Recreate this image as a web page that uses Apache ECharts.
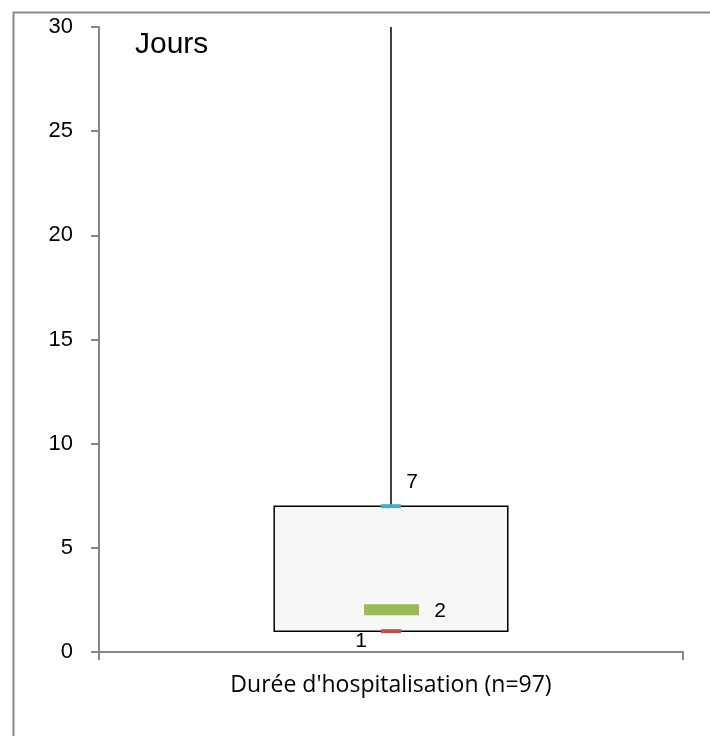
<!DOCTYPE html>
<html><head><meta charset="utf-8">
<script src="https://cdn.jsdelivr.net/npm/echarts@6/dist/echarts.min.js"></script>
<style>html,body{margin:0;padding:0;background:#fff}#c{width:710px;height:736px}</style>
</head><body><div id="c"></div>
<script>
const categories = ["Durée d'hospitalisation (n=97)"];
const minVals = [1];
const q1Vals = [1];
const medianVals = [2];
const q3Vals = [7];
const maxVals = [30];
const yTicks = { min: 0, max: 30, interval: 5 };

const data = categories.map((c, i) => [i, minVals[i], q1Vals[i], medianVals[i], q3Vals[i], maxVals[i]]);
const chart = echarts.init(document.getElementById('c'));
const FONT = 'Liberation Sans';

function renderItem(params, api) {
  const i = api.value(0);
  const vMin = api.value(1), vQ1 = api.value(2), vMed = api.value(3), vQ3 = api.value(4), vMax = api.value(5);
  const band = api.size([1, 0])[0];
  const pMin = api.coord([i, vMin]);
  const pQ1 = api.coord([i, vQ1]);
  const pMed = api.coord([i, vMed]);
  const pQ3 = api.coord([i, vQ3]);
  const pMax = api.coord([i, vMax]);
  const cx = pQ1[0];
  const bw = band * 0.4;
  const children = [
    { type: 'line', shape: { x1: cx, y1: pQ3[1], x2: cx, y2: pMax[1] }, style: { stroke: '#000', lineWidth: 1.5 } },
    { type: 'rect', shape: { x: cx - bw / 2, y: pQ3[1], width: bw, height: pQ1[1] - pQ3[1] }, style: { fill: '#f7f7f7', stroke: '#000', lineWidth: 1.5 } },
    { type: 'rect', shape: { x: cx - 10, y: pQ3[1] - 2, width: 20, height: 4 }, style: { fill: '#4bacc6' } },
    { type: 'rect', shape: { x: cx - 27, y: pMed[1] - 6, width: 55, height: 11 }, style: { fill: '#9bbb59' } },
    { type: 'rect', shape: { x: cx - 10, y: pMin[1] - 2, width: 20, height: 4 }, style: { fill: '#c0504d' } },
    { type: 'text', style: { x: cx + 21, y: pQ3[1] - 24, text: String(vQ3), font: '21px ' + FONT, fill: '#000', textAlign: 'center', textVerticalAlign: 'middle' } },
    { type: 'text', style: { x: cx + 49, y: pMed[1] + 1, text: String(vMed), font: '21px ' + FONT, fill: '#000', textAlign: 'center', textVerticalAlign: 'middle' } },
    { type: 'text', style: { x: cx - 30, y: pMin[1] + 10, text: String(vMin), font: '21px ' + FONT, fill: '#000', textAlign: 'center', textVerticalAlign: 'middle' } }
  ];
  return { type: 'group', children };
}

chart.setOption({
  animation: false,
  grid: { left: 99, right: 27, top: 27, bottom: 84 },
  graphic: [
    { type: 'rect', left: 11, top: 10, shape: { width: 800, height: 800 }, style: { fill: 'none', stroke: '#8a8a8a', lineWidth: 2 }, z: -1 },
    { type: 'text', left: 135, top: 30, style: { text: 'Jours', font: '30px ' + FONT, fill: '#000' } }
  ],
  xAxis: {
    type: 'category', data: categories,
    axisLine: { lineStyle: { color: '#868686', width: 2 } },
    axisTick: { show: true, length: 8, lineStyle: { color: '#868686', width: 2 } },
    axisLabel: { color: '#000', fontFamily: 'Open Sans', fontSize: 23, margin: 22 },
    splitLine: { show: false }
  },
  yAxis: {
    type: 'value', min: yTicks.min, max: yTicks.max, interval: yTicks.interval,
    axisLine: { show: true, lineStyle: { color: '#868686', width: 2 } },
    axisTick: { show: true, length: 8, lineStyle: { color: '#868686', width: 2 } },
    axisLabel: { color: '#000', fontFamily: FONT, fontSize: 22, margin: 26 },
    splitLine: { show: false }
  },
  series: [{ type: 'custom', renderItem, data, encode: { x: 0, y: [1, 2, 3, 4, 5] }, clip: false }]
});
</script></body></html>
